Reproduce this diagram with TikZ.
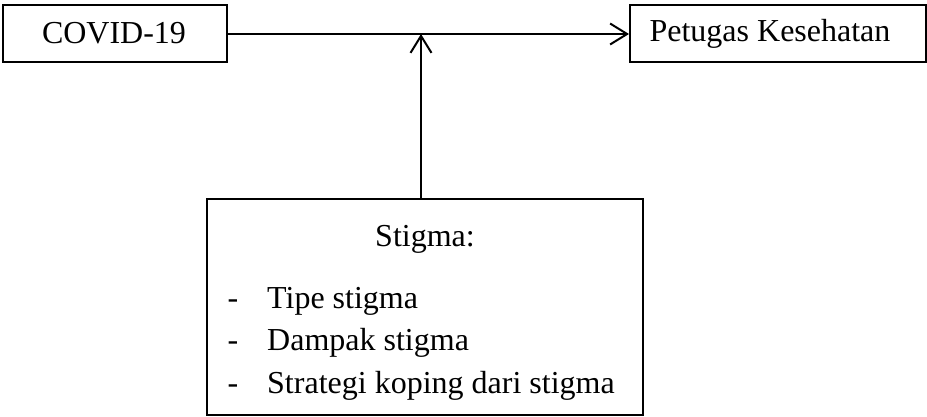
\documentclass[tikz,border=0pt]{standalone}
\usepackage{fontspec}
\setmainfont{Liberation Serif}
\usetikzlibrary{arrows.meta}
\begin{document}
\begin{tikzpicture}[x=1pt,y=-1pt,
  every node/.style={font=\fontsize{32}{38}\selectfont},
  boxnode/.style={draw, line width=2pt, rectangle, inner sep=0pt},
  arr/.style={line width=2pt, -{Straight Barb[length=17pt,width=21pt,line width=2pt]}}]
\useasboundingbox (0,0) rectangle (927,417);
\node[boxnode, minimum width=224pt, minimum height=57pt] (covid) at (115,33.5) {};
\node (covidt) at (114,33.5) {COVID-19};
\node[boxnode, minimum width=296pt, minimum height=57pt] (pet) at (778,33.5) {};
\node (pett) at (770,33.5) {Petugas Kesehatan};
\node[boxnode, minimum width=436pt, minimum height=216pt] (stig) at (425,307) {};
\node[anchor=base] (st) at (425,246) {Stigma:};
\node[anchor=base] (d1) at (233,308) {-};
\node[anchor=base west, inner sep=0pt] (i1) at (267,308) {Tipe stigma};
\node[anchor=base] (d2) at (233,350) {-};
\node[anchor=base west, inner sep=0pt] (i2) at (267,350) {Dampak stigma};
\node[anchor=base] (d3) at (233,393) {-};
\node[anchor=base west, inner sep=0pt] (i3) at (267,393) {Strategi koping dari stigma};
\coordinate (j) at (421,34);
\draw[arr] (covid.east |- j) -- (pet.west |- j);
\draw[arr] (j |- stig.north) -- (j);
\end{tikzpicture}
\end{document}
